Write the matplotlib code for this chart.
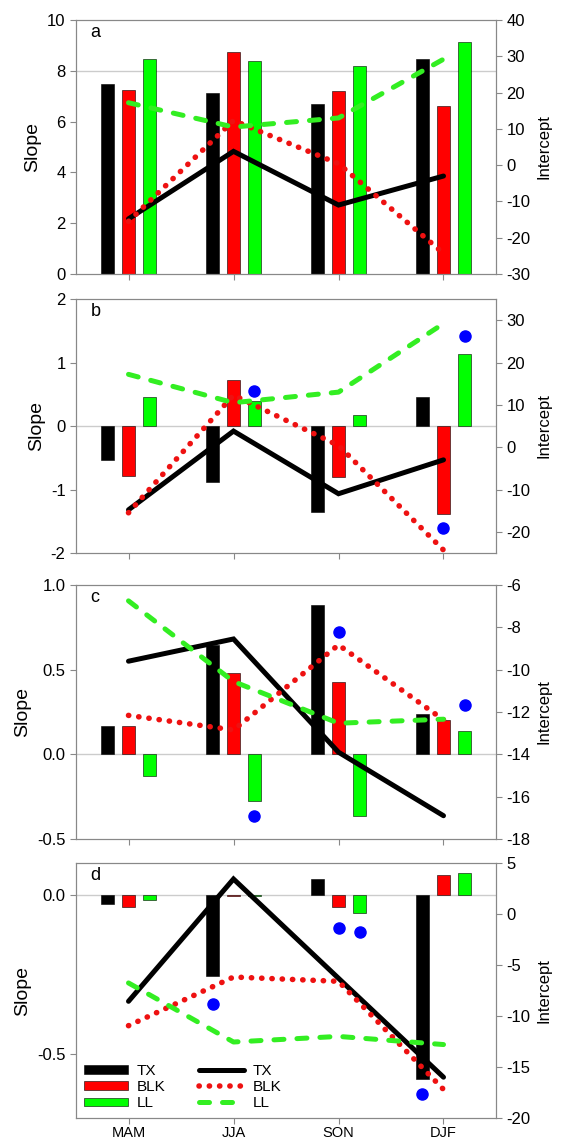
import matplotlib
matplotlib.use("Agg")
import matplotlib.pyplot as plt
from matplotlib.patches import Patch
from matplotlib.lines import Line2D

plt.rcParams['font.family'] = ['Liberation Sans', 'DejaVu Sans']
plt.rcParams['axes.unicode_minus'] = False

# ================= data =================
seasons = ["MAM", "JJA", "SON", "DJF"]
series = ["TX", "BLK", "LL"]

# slope bars (left axis)
slope_a = {"TX": [7.49, 7.12, 6.68, 8.46], "BLK": [7.23, 8.73, 7.20, 6.63], "LL": [8.46, 8.39, 8.18, 9.15]}
slope_b = {"TX": [-0.53, -0.88, -1.35, 0.45], "BLK": [-0.79, 0.72, -0.80, -1.38], "LL": [0.45, 0.40, 0.17, 1.14]}
slope_c = {"TX": [0.165, 0.646, 0.882, 0.24], "BLK": [0.165, 0.479, 0.43, 0.202], "LL": [-0.126, -0.274, -0.362, 0.139]}
slope_d = {"TX": [-0.029, -0.255, 0.049, -0.579], "BLK": [-0.037, -0.005, -0.037, 0.061], "LL": [-0.016, -0.005, -0.058, 0.068]}

# intercept lines (right axis)
icpt_ab = {"TX": [-14.8, 3.8, -11.0, -3.0], "BLK": [-15.5, 12.3, 0.4, -24.3], "LL": [17.2, 10.5, 13.0, 29.2]}
icpt_c = {"TX": [-9.6, -8.55, -13.9, -16.9], "BLK": [-12.16, -12.85, -8.83, -12.37], "LL": [-6.75, -10.56, -12.53, -12.34]}
icpt_d = {"TX": [-8.56, 3.43, -6.3, -16.0], "BLK": [-10.95, -6.18, -6.6, -17.2], "LL": [-6.76, -12.55, -12.0, -12.8]}

# blue dots: (season index, series, slope value)
dots_b = [(1, "LL", 0.55), (3, "BLK", -1.61), (3, "LL", 1.41)]
dots_c = [(1, "LL", -0.366), (2, "BLK", 0.72), (3, "LL", 0.29)]
dots_d = [(1, "TX", -0.343), (2, "BLK", -0.103), (2, "LL", -0.118), (3, "TX", -0.626)]
# ========================================

BAR_COL = {"TX": "black", "BLK": "#ff0000", "LL": "#00ff00"}
OFFSET = {"TX": -0.2, "BLK": 0.0, "LL": 0.2}
LINE_KW = {
    "TX": dict(color="black", lw=3.6, solid_capstyle="round", solid_joinstyle="miter"),
    "BLK": dict(color="#ee1111", lw=4.0, linestyle=(0, (0.05, 1.8)), dash_capstyle="round"),
    "LL": dict(color="#33ee22", lw=3.6, linestyle=(0, (2.0, 2.6)), dash_capstyle="round"),
}
SPINE = "#888888"
W, H = 563, 1142


def draw_panel(rect, letter, slopes, icpts, dots, ylim, yticks, ylim2, yticks2,
               refline=0.0, fmt=None, show_x=False):
    ax = fig.add_axes(rect)
    x = list(range(len(seasons)))
    ax.axhline(refline, color="#cccccc", lw=1, zorder=0)
    for s in series:
        ax.bar([i + OFFSET[s] for i in x], slopes[s], width=0.12, color=BAR_COL[s],
               edgecolor="black", linewidth=0.4, zorder=2)
    for i, s, v in dots:
        ax.plot(i + OFFSET[s], v, "o", color="#0000ff", ms=8, zorder=3)
    ax.set_xlim(-0.5, 3.5)
    ax.set_ylim(*ylim)
    ax.set_yticks(yticks)
    if fmt:
        ax.set_yticklabels([fmt.format(t) for t in yticks])
    ax.set_xticks(x)
    ax.set_xticklabels(seasons if show_x else [])
    ax.set_ylabel("Slope", fontsize=14)
    ax.tick_params(colors=SPINE, labelcolor="black", labelsize=12, length=4, direction="out")
    ax.tick_params(axis="x", labelsize=10.5, pad=2)
    for sp in ax.spines.values():
        sp.set_color(SPINE)
    ax.text(0.035, 0.985, letter, transform=ax.transAxes, va="top", ha="left", fontsize=13)

    ax2 = ax.twinx()
    for s in series:
        ax2.plot(x, icpts[s], **LINE_KW[s])
    ax2.set_ylim(*ylim2)
    ax2.set_yticks(yticks2)
    ax2.set_ylabel("Intercept", fontsize=12)
    ax2.tick_params(colors=SPINE, labelcolor="black", labelsize=12, length=4, direction="out")
    for sp in ax2.spines.values():
        sp.set_color(SPINE)
    return ax, ax2


def rect_px(top, bottom, left=76, right=496):
    return [left / W, 1 - bottom / H, (right - left) / W, (bottom - top) / H]


fig = plt.figure(figsize=(W / 100, H / 100), dpi=100)

draw_panel(rect_px(20, 274), "a", slope_a, icpt_ab, [], (0, 10), [0, 2, 4, 6, 8, 10],
           (-30, 40), list(range(-30, 41, 10)), refline=8)
draw_panel(rect_px(299, 553), "b", slope_b, icpt_ab, dots_b, (-2, 2), [-2, -1, 0, 1, 2],
           (-25, 35), list(range(-20, 31, 10)))
draw_panel(rect_px(585, 839), "c", slope_c, icpt_c, dots_c, (-0.5, 1.0), [-0.5, 0.0, 0.5, 1.0],
           (-18, -6), list(range(-18, -5, 2)), fmt="{:.1f}")
ax_d, ax2_d = draw_panel(rect_px(863, 1118), "d", slope_d, icpt_d, dots_d, (-0.7, 0.1), [-0.5, 0.0],
                         (-20, 5), list(range(-20, 6, 5)), fmt="{:.1f}", show_x=True)

handles = [Patch(facecolor=BAR_COL[s], edgecolor="black", linewidth=0.4) for s in series]
handles += [Line2D([], [], **LINE_KW[s]) for s in series]
labels = series + series
ax2_d.legend(handles, labels, ncol=2, loc="lower left", bbox_to_anchor=(0.0, 0.0),
             frameon=False, fontsize=11, handlelength=2.9, handleheight=0.5,
             handletextpad=0.6, columnspacing=2.2, labelspacing=0.15, borderaxespad=0.1)

fig.savefig("out.png", dpi=100)
